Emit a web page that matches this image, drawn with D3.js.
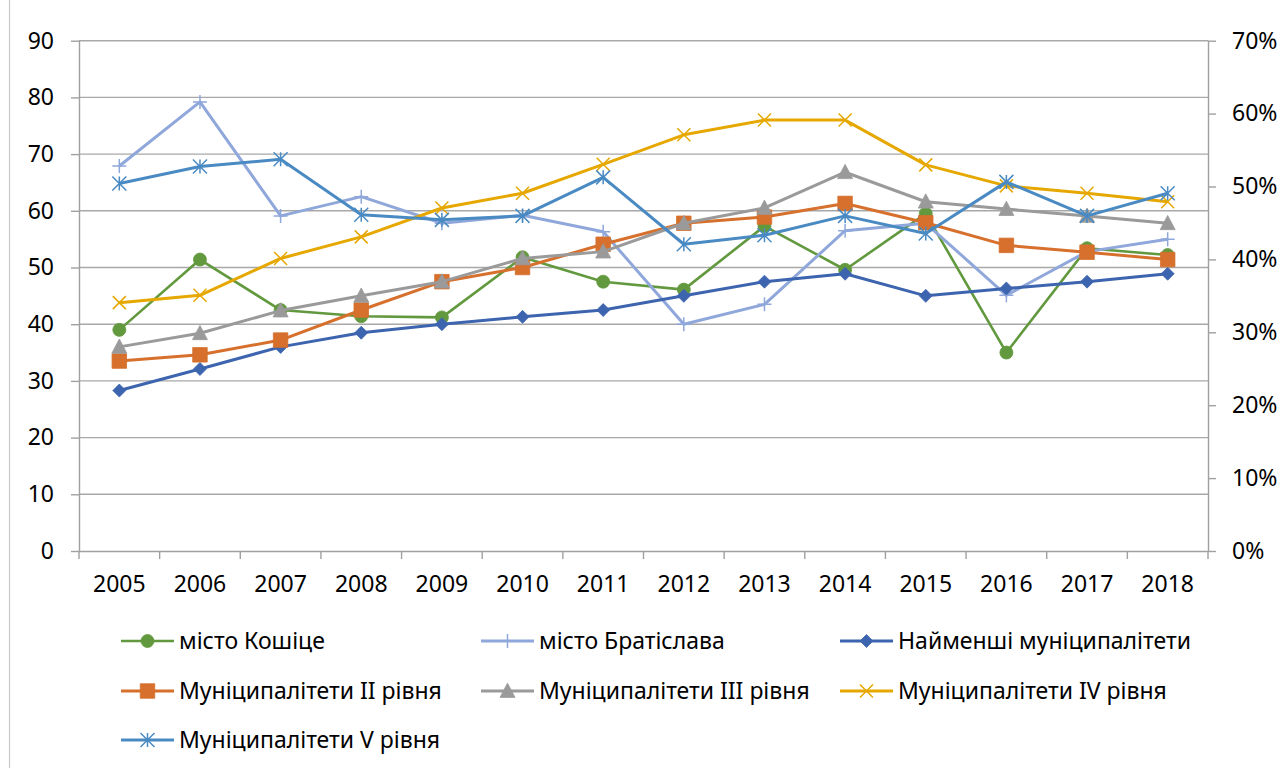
<!DOCTYPE html>
<html>
<head>
<meta charset="utf-8">
<script src="https://cdn.jsdelivr.net/npm/d3@7"></script>
<style>
  html, body { margin: 0; padding: 0; background: #fff; }
  svg { display: block; }
  text { font-family: "Noto Sans", "Open Sans", sans-serif; fill: #000; }
</style>
</head>
<body>
<svg id="chart" width="1283" height="768"></svg>
<script>
const years = ["2005","2006","2007","2008","2009","2010","2011","2012","2013","2014","2015","2016","2017","2018"];
const kosice     = [39.0, 51.4, 42.5, 41.4, 41.2, 51.8, 47.5, 46.1, 57.3, 49.6, 59.5, 35.0, 53.4, 52.2];
const bratislava = [67.9, 79.2, 59.1, 62.5, 57.8, 59.2, 56.3, 40.0, 43.5, 56.5, 57.8, 45.1, 52.8, 55.0];
const smallest   = [28.3, 32.1, 36.0, 38.5, 40.0, 41.3, 42.5, 45.0, 47.5, 48.9, 45.0, 46.3, 47.5, 48.9];
const level2     = [33.5, 34.6, 37.2, 42.5, 47.5, 50.0, 54.1, 57.8, 58.9, 61.3, 57.9, 53.9, 52.7, 51.4];
const level3     = [36.0, 38.4, 42.4, 45.0, 47.5, 51.6, 52.8, 57.8, 60.5, 66.8, 61.6, 60.3, 59.1, 57.8];
const level4     = [43.8, 45.1, 51.6, 55.4, 60.5, 63.1, 68.2, 73.4, 76.0, 76.0, 68.1, 64.4, 63.1, 61.6];
const level5     = [64.8, 67.8, 69.1, 59.3, 58.4, 59.1, 65.9, 54.1, 55.7, 59.1, 56.0, 65.1, 59.1, 63.1];
const seriesNames = ["місто Кошіце","місто Братіслава","Найменші муніципалітети",
  "Муніципалітети II рівня","Муніципалітети III рівня","Муніципалітети IV рівня","Муніципалітети V рівня"];
const leftTicks = [0,10,20,30,40,50,60,70,80,90];
const rightTicks = [0,0.1,0.2,0.3,0.4,0.5,0.6,0.7];

const seriesValues = [kosice, bratislava, smallest, level2, level3, level4, level5];
const colors = ["#62993e","#8fa7da","#3d64ae","#d6702c","#9a9a9a","#e6a800","#4a8ac3"];
const markers = ["circle","plus","diamond","square","triangle","x","asterisk"];
const widths = [2.6,3,3,3,3,3,3];

const svg = d3.select("#chart");
const L = 79, R = 1208, T = 40.7, B = 551;

const x = d3.scaleBand().domain(years).range([L, R]);
const y = d3.scaleLinear().domain([0, 90]).range([B, T]);
const y2 = d3.scaleLinear().domain([0, 0.7]).range([B, T]);

// outer frame
svg.append("line").attr("x1",9.5).attr("x2",9.5).attr("y1",0).attr("y2",768)
  .attr("stroke","#c8c8c8").attr("stroke-width",1.2);

// gridlines
svg.append("g").selectAll("line").data(leftTicks.filter(d=>d>0)).join("line")
  .attr("x1", L).attr("x2", R).attr("y1", d=>y(d)).attr("y2", d=>y(d))
  .attr("stroke", "#a8a8a8").attr("stroke-width", 1.4);

// left axis
const gl = svg.append("g").attr("transform", `translate(${L},0)`)
  .call(d3.axisLeft(y).tickValues(leftTicks).tickSize(8).tickPadding(17));
// right axis
const gr = svg.append("g").attr("transform", `translate(${R},0)`)
  .call(d3.axisRight(y2).tickValues(rightTicks).tickSize(8).tickPadding(16).tickFormat(d3.format(".0%")));
// bottom axis
const gb = svg.append("g").attr("transform", `translate(0,${B})`)
  .call(d3.axisBottom(x).tickSize(0).tickPadding(25));
// category ticks at band boundaries
svg.append("g").selectAll("line").data(years.concat(["__end"])).join("line")
  .attr("x1", (d,i)=> L + i*x.step()).attr("x2", (d,i)=> L + i*x.step())
  .attr("y1", B).attr("y2", B + 8).attr("stroke","#a0a0a0").attr("stroke-width",1.4);

[gl, gr, gb].forEach(g => {
  g.selectAll(".domain").attr("stroke","#a0a0a0").attr("stroke-width",1.4);
  g.selectAll(".tick line").attr("stroke","#a0a0a0").attr("stroke-width",1.4);
  g.selectAll("text").style("font-size","23px").attr("fill","#000");
});
gb.select(".domain").attr("d", `M${L},0.5H${R}`);
gl.select(".domain").attr("d", `M0.5,${B}V${T}`);
gr.select(".domain").attr("d", `M0.5,${B}V${T}`);

function markerPath(type, s) {
  const h = s/2;
  switch(type) {
    case "circle": return d3.symbol(d3.symbolCircle, Math.PI*(s/2)*(s/2))();
    case "square": return `M${-h},${-h}H${h}V${h}H${-h}Z`;
    case "diamond": return `M0,${-h}L${h},0L0,${h}L${-h},0Z`;
    case "triangle": return `M0,${-h*1.05}L${h},${h*0.85}L${-h},${h*0.85}Z`;
    case "plus": return `M${-h},0H${h}M0,${-h}V${h}`;
    case "x": return `M${-h},${-h}L${h},${h}M${-h},${h}L${h},${-h}`;
    case "asterisk": return `M${-h},${-h}L${h},${h}M${-h},${h}L${h},${-h}M0,${-h}V${h}`;
  }
}
const markerSize = {circle:13, square:14.5, diamond:13, triangle:15, plus:14, x:13, asterisk:14};
const filled = t => ["circle","square","diamond","triangle"].includes(t);

const line = d3.line().x((d,i)=> x(years[i]) + x.bandwidth()/2).y(d=>y(d));

seriesValues.forEach((vals, si) => {
  const g = svg.append("g");
  g.append("path").datum(vals).attr("d", line).attr("fill","none")
    .attr("stroke", colors[si]).attr("stroke-width", widths[si]).attr("stroke-linejoin","round");
  const t = markers[si];
  g.selectAll("path.m").data(vals).join("path").attr("class","m")
    .attr("transform", (d,i)=> `translate(${x(years[i]) + x.bandwidth()/2},${y(d)})`)
    .attr("d", markerPath(t, markerSize[t]))
    .attr("fill", filled(t) ? colors[si] : "none")
    .attr("stroke", colors[si]).attr("stroke-width", filled(t) ? 0.8 : 1.5);
});

// legend
const colX = [121, 481, 840];
const rowY = [641, 691, 740];
const lg = svg.append("g");
seriesNames.forEach((name, i) => {
  const cx = colX[i % 3], cy = rowY[Math.floor(i/3)];
  const g = lg.append("g").attr("transform", `translate(${cx},${cy})`);
  g.append("line").attr("x1",0).attr("x2",53).attr("y1",0).attr("y2",0)
    .attr("stroke", colors[i]).attr("stroke-width", widths[i]);
  const t = markers[i];
  g.append("path").attr("transform","translate(26.5,0)")
    .attr("d", markerPath(t, markerSize[t]))
    .attr("fill", filled(t) ? colors[i] : "none")
    .attr("stroke", colors[i]).attr("stroke-width", filled(t) ? 0.8 : 1.5);
  g.append("text").attr("x", 58).attr("y", 0).attr("dy","0.35em")
    .style("font-size","23px").text(name);
});
</script>
</body>
</html>
